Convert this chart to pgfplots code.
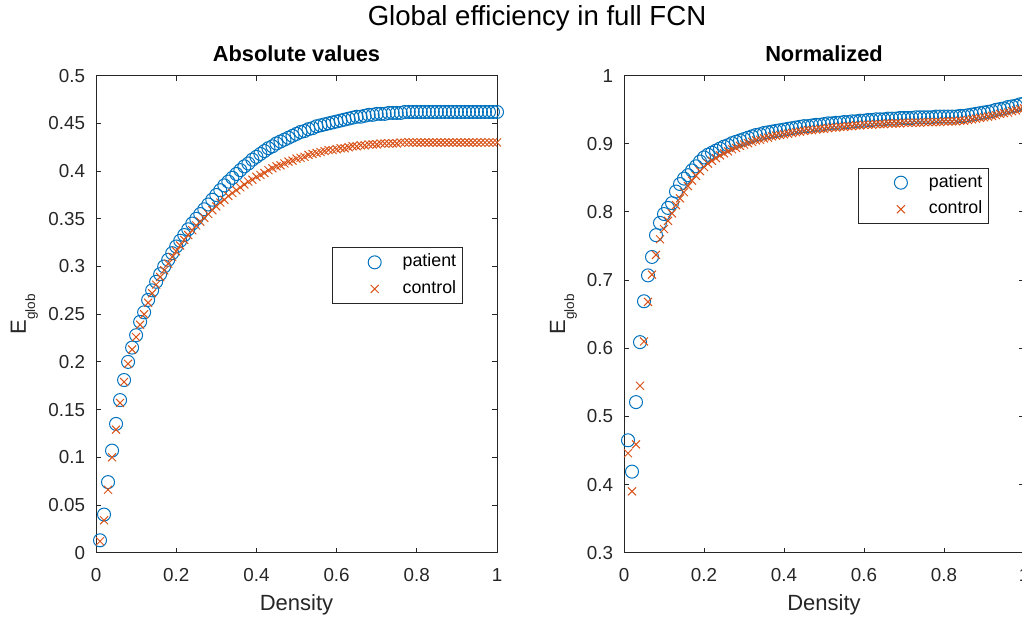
\documentclass[border=0pt]{standalone}
\usepackage{pgfplots}
\pgfplotsset{compat=1.18}
\usepackage{pgfplotstable}
\usepackage{fontspec}
\setmainfont{Liberation Sans}
\definecolor{mblue}{RGB}{0,114,189}
\definecolor{morange}{RGB}{217,83,25}
\definecolor{axgray}{RGB}{38,38,38}

\pgfplotstableread{
d pa pc na nc
0.01 0.013 0.012 0.465 0.446
0.02 0.040 0.034 0.419 0.390
0.03 0.074 0.066 0.521 0.459
0.04 0.107 0.100 0.609 0.545
0.05 0.135 0.129 0.669 0.610
0.06 0.160 0.157 0.707 0.668
0.07 0.181 0.179 0.734 0.708
0.08 0.200 0.198 0.766 0.737
0.09 0.215 0.213 0.784 0.760
0.10 0.228 0.226 0.797 0.775
0.11 0.242 0.239 0.806 0.787
0.12 0.252 0.250 0.813 0.798
0.13 0.265 0.262 0.830 0.810
0.14 0.275 0.272 0.841 0.820
0.15 0.284 0.281 0.849 0.829
0.16 0.292 0.289 0.854 0.838
0.17 0.300 0.296 0.861 0.846
0.18 0.307 0.303 0.867 0.853
0.19 0.314 0.310 0.874 0.860
0.20 0.321 0.316 0.880 0.866
0.21 0.327 0.322 0.884 0.871
0.22 0.333 0.328 0.887 0.875
0.23 0.339 0.333 0.890 0.879
0.24 0.345 0.338 0.893 0.883
0.25 0.350 0.343 0.896 0.886
0.26 0.355 0.347 0.898 0.889
0.27 0.360 0.351 0.901 0.892
0.28 0.365 0.355 0.903 0.894
0.29 0.370 0.359 0.905 0.897
0.30 0.375 0.363 0.907 0.899
0.31 0.380 0.367 0.909 0.901
0.32 0.385 0.370 0.911 0.903
0.33 0.389 0.374 0.913 0.905
0.34 0.393 0.377 0.914 0.906
0.35 0.397 0.380 0.916 0.908
0.36 0.401 0.383 0.917 0.909
0.37 0.405 0.386 0.918 0.911
0.38 0.408 0.389 0.919 0.912
0.39 0.412 0.391 0.920 0.913
0.40 0.415 0.394 0.921 0.914
0.41 0.418 0.396 0.922 0.915
0.42 0.421 0.398 0.923 0.916
0.43 0.424 0.401 0.924 0.917
0.44 0.426 0.403 0.925 0.918
0.45 0.429 0.405 0.926 0.919
0.46 0.431 0.406 0.926 0.920
0.47 0.433 0.408 0.927 0.920
0.48 0.435 0.410 0.928 0.921
0.49 0.437 0.411 0.928 0.922
0.50 0.439 0.413 0.929 0.922
0.51 0.441 0.414 0.930 0.923
0.52 0.442 0.415 0.930 0.924
0.53 0.444 0.417 0.931 0.924
0.54 0.445 0.418 0.931 0.925
0.55 0.447 0.419 0.932 0.925
0.56 0.448 0.420 0.932 0.926
0.57 0.449 0.421 0.933 0.926
0.58 0.450 0.422 0.933 0.927
0.59 0.451 0.422 0.934 0.927
0.60 0.452 0.423 0.934 0.928
0.61 0.453 0.424 0.935 0.928
0.62 0.454 0.424 0.935 0.928
0.63 0.455 0.425 0.936 0.929
0.64 0.456 0.426 0.936 0.929
0.65 0.457 0.426 0.936 0.929
0.66 0.457 0.427 0.937 0.930
0.67 0.458 0.427 0.937 0.930
0.68 0.459 0.428 0.937 0.930
0.69 0.459 0.428 0.938 0.930
0.70 0.460 0.428 0.938 0.931
0.71 0.460 0.429 0.938 0.931
0.72 0.460 0.429 0.938 0.931
0.73 0.461 0.429 0.939 0.931
0.74 0.461 0.429 0.939 0.931
0.75 0.461 0.429 0.939 0.932
0.76 0.461 0.430 0.939 0.932
0.77 0.462 0.430 0.939 0.932
0.78 0.462 0.430 0.940 0.932
0.79 0.462 0.430 0.940 0.932
0.80 0.462 0.430 0.940 0.933
0.81 0.462 0.430 0.940 0.933
0.82 0.462 0.430 0.940 0.933
0.83 0.462 0.430 0.940 0.933
0.84 0.462 0.430 0.941 0.934
0.85 0.462 0.430 0.941 0.934
0.86 0.462 0.430 0.942 0.935
0.87 0.462 0.430 0.943 0.936
0.88 0.462 0.430 0.944 0.937
0.89 0.462 0.430 0.945 0.938
0.90 0.462 0.430 0.946 0.939
0.91 0.462 0.430 0.947 0.940
0.92 0.462 0.430 0.948 0.941
0.93 0.462 0.430 0.950 0.942
0.94 0.462 0.430 0.951 0.944
0.95 0.462 0.430 0.952 0.945
0.96 0.462 0.430 0.954 0.946
0.97 0.462 0.430 0.955 0.948
0.98 0.462 0.430 0.956 0.949
0.99 0.462 0.430 0.958 0.951
1.00 0.462 0.430 0.959 0.952
}\data

\pgfplotsset{
  myaxis/.style={
    scale only axis, clip=false,
    xmin=0, xmax=1,
    xtick={0,0.2,0.4,0.6,0.8,1}, xticklabels={0,0.2,0.4,0.6,0.8,1},
    tick align=inside, major tick length=2.4pt,
    axis line style={axgray, line width=0.5pt},
    every tick/.style={axgray, line width=0.5pt},
    tick label style={font=\fontsize{9.4}{11}\selectfont, text=axgray, inner sep=0pt},
    xticklabel style={anchor=north, yshift=-7.5pt},
    yticklabel style={anchor=east, xshift=-5.3pt},
    xlabel={Density},
    xlabel style={font=\fontsize{11}{13}\selectfont, text=axgray, at={(axis description cs:0.5,0)}, anchor=base, yshift=-28.65pt, inner sep=0pt},
    ylabel={E\raisebox{-4.6pt}{\fontsize{6.8}{8}\selectfont glob}},
    title style={font=\fontsize{10.9}{13}\selectfont\bfseries, text=black, at={(axis description cs:0.5,1)}, anchor=base, yshift=1.35pt, inner sep=0pt},
    legend style={anchor=north west, draw=axgray, line width=0.5pt, inner xsep=3pt, inner ysep=3pt,
      font=\fontsize{8.9}{10}\selectfont, text=black,
      nodes={inner sep=0pt, text height=6.5pt, text depth=1.9pt}, row sep=4.9pt, column sep=4pt},
    legend cell align=left,
    legend image code/.code={\path[draw=none,fill=none] (0pt,-3pt) rectangle (28pt,3pt);
      \draw[mark repeat=2,mark phase=2,##1] plot coordinates {(0pt,0pt) (18pt,0pt) (28pt,0pt)};},
  },
  pat/.style={only marks, mark=o, mark size=3.25pt, line width=0.5pt, color=mblue},
  con/.style={only marks, mark=x, mark size=2.83pt, line width=0.5pt, color=morange},
}

\begin{document}
\begin{tikzpicture}
\begin{axis}[myaxis, at={(48pt,32.65pt)}, anchor=south west, width=200.5pt, height=238.5pt,
  ymin=0, ymax=0.5,
  ytick={0,0.05,0.1,0.15,0.2,0.25,0.3,0.35,0.4,0.45,0.5},
  yticklabels={0,0.05,0.1,0.15,0.2,0.25,0.3,0.35,0.4,0.45,0.5},
  ylabel style={font=\fontsize{11}{13}\selectfont, text=axgray, at={(axis description cs:-0.1746,0.5)}, anchor=base, inner sep=0pt},
  title={Absolute values},
  legend style={at={(axis description cs:0.589,0.640)}},
]
\addplot[pat] table[x=d, y=pa] {\data};
\addplot[con] table[x=d, y=pc] {\data};
\legend{patient, control}
\end{axis}
\begin{axis}[myaxis, at={(312pt,32.65pt)}, anchor=south west, width=200pt, height=238.5pt,
  ymin=0.3, ymax=1,
  ytick={0.3,0.4,0.5,0.6,0.7,0.8,0.9,1},
  yticklabels={0.3,0.4,0.5,0.6,0.7,0.8,0.9,1},
  ylabel style={font=\fontsize{11}{13}\selectfont, text=axgray, at={(axis description cs:-0.1475,0.5)}, anchor=base, inner sep=0pt},
  title={Normalized},
  legend style={at={(axis description cs:0.586,0.807)}},
]
\addplot[pat] table[x=d, y=na] {\data};
\addplot[con] table[x=d, y=nc] {\data};
\legend{patient, control}
\end{axis}
\node[font=\fontsize{13.8}{16}\selectfont, text=black, anchor=base, inner sep=0pt] at (268.5pt,296.5pt) {Global efficiency in full FCN};
\pgfresetboundingbox
\path[use as bounding box] (0pt,0pt) rectangle (511pt,309pt);
\end{tikzpicture}
\end{document}
